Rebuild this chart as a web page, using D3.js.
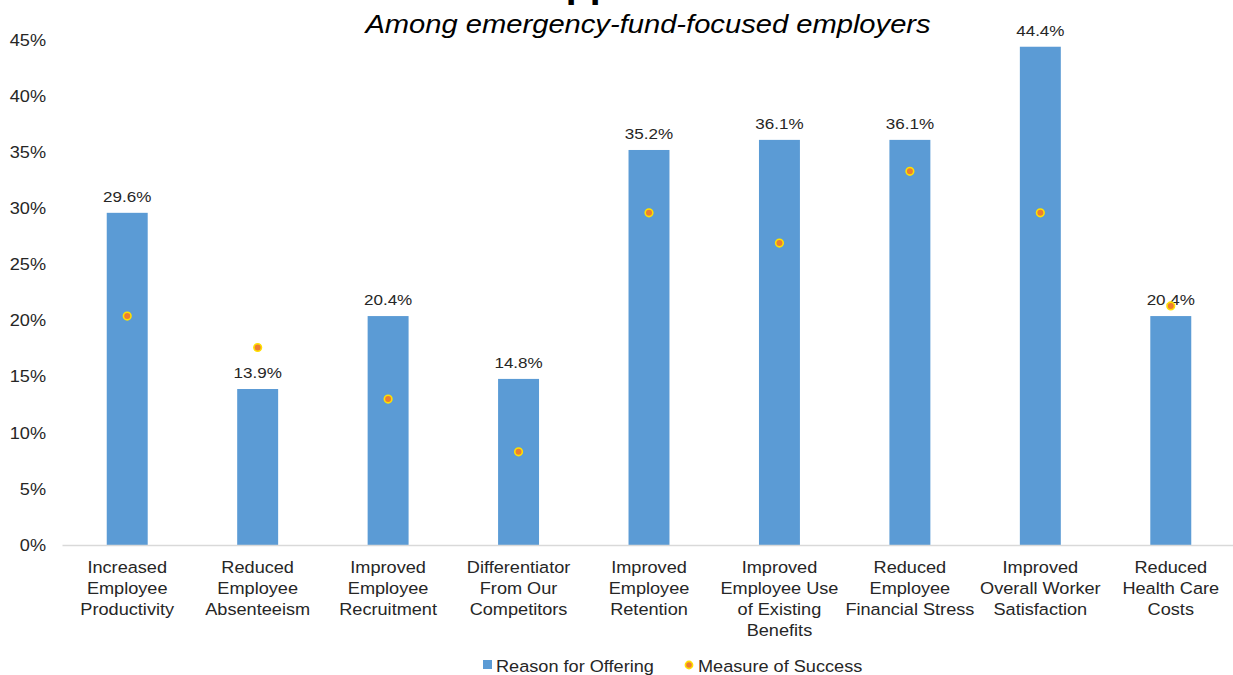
<!DOCTYPE html>
<html>
<head>
<meta charset="utf-8">
<script src="https://cdn.jsdelivr.net/npm/d3@7"></script>
<style>
  html, body { margin: 0; padding: 0; background: #fff; }
  svg { display: block; font-family: "Liberation Sans", Arial, sans-serif; }
</style>
</head>
<body>
<svg id="chart" width="1233" height="675"></svg>
<script>
// Reasons employers give for offering emergency-fund support, and how they measure success
const categories = [
  ["Increased", "Employee", "Productivity"],
  ["Reduced", "Employee", "Absenteeism"],
  ["Improved", "Employee", "Recruitment"],
  ["Differentiator", "From Our", "Competitors"],
  ["Improved", "Employee", "Retention"],
  ["Improved", "Employee Use", "of Existing", "Benefits"],
  ["Reduced", "Employee", "Financial Stress"],
  ["Improved", "Overall Worker", "Satisfaction"],
  ["Reduced", "Health Care", "Costs"]
];
const reasonForOffering = [29.6, 13.9, 20.4, 14.8, 35.2, 36.1, 36.1, 44.4, 20.4];
const measureOfSuccess  = [20.4, 17.6, 13.0, 8.3, 29.6, 26.9, 33.3, 29.6, 21.3];
const yTicks = [0, 5, 10, 15, 20, 25, 30, 35, 40, 45];
const seriesNames = ["Reason for Offering", "Measure of Success"];

const svg = d3.select("#chart");
const textColor = "#262626";
const barColor = "#5B9BD5";
const dotFill = "#ED7D31";
const dotStroke = "#FFE000";
const SX = 1.1; // horizontal widening of the text faces

// Place a text at (x, y) with a slight horizontal stretch
function placeText(sel, fx, fy) {
  sel.each(function (d, i) {
    const px = fx(d, i), py = fy(d, i);
    d3.select(this)
      .attr("x", 0).attr("y", 0)
      .attr("transform", `translate(${px},${py}) scale(${SX},1)`);
  });
  return sel;
}

const plot = { left: 62, right: 1236, top: 40, bottom: 545 };

const x = d3.scaleBand()
  .domain(d3.range(categories.length))
  .range([plot.left, plot.right])
  .paddingInner(0.686)
  .paddingOuter(0.343);

const y = d3.scaleLinear()
  .domain([0, 45])
  .range([plot.bottom, plot.top]);

// Title (runs off the top edge) and subtitle
svg.append("text")
  .attr("x", 516).attr("y", -3)
  .attr("font-size", 39).attr("font-weight", "bold")
  .attr("fill", "#000")
  .text("Support");

placeText(
  svg.append("text")
    .attr("text-anchor", "middle")
    .attr("font-size", 26.5).attr("font-style", "italic")
    .attr("fill", "#000")
    .text("Among emergency-fund-focused employers"),
  () => 648, () => 33);

// Y axis tick labels
const yAxis = d3.axisLeft(y)
  .tickValues(yTicks)
  .tickFormat(d => d + "%")
  .tickSize(0)
  .tickPadding(16);
const yg = svg.append("g")
  .attr("transform", `translate(${plot.left},0)`)
  .call(yAxis);
yg.select(".domain").remove();
yg.selectAll("text")
  .attr("font-size", 16.5)
  .attr("font-family", "Liberation Sans, Arial, sans-serif")
  .attr("fill", textColor)
  .attr("x", -16 / SX)
  .attr("transform", `scale(${SX},1)`);

// Bars
svg.append("g").selectAll("rect")
  .data(reasonForOffering)
  .join("rect")
  .attr("x", (d, i) => x(i))
  .attr("y", d => y(d))
  .attr("width", x.bandwidth())
  .attr("height", d => y(0) - y(d))
  .attr("fill", barColor);

// X axis baseline
const xAxis = d3.axisBottom(x).tickSize(0).tickFormat("");
const xg = svg.append("g")
  .attr("transform", `translate(0,${plot.bottom})`)
  .call(xAxis);
xg.select(".domain").attr("stroke", "#D9D9D9").attr("stroke-width", 1.5);

// Category labels (multi-line)
const catG = svg.append("g").selectAll("text")
  .data(categories)
  .join("text")
  .attr("text-anchor", "middle")
  .attr("font-size", 16.5)
  .attr("fill", textColor);
placeText(catG, (d, i) => x(i) + x.bandwidth() / 2, () => plot.bottom + 28);
catG.each(function (lines) {
  const t = d3.select(this);
  lines.forEach((line, k) => {
    t.append("tspan")
      .attr("x", 0)
      .attr("dy", k === 0 ? 0 : 21)
      .text(line);
  });
});

// Value labels above bars
placeText(
  svg.append("g").selectAll("text")
    .data(reasonForOffering)
    .join("text")
    .attr("text-anchor", "middle")
    .attr("font-size", 15.5)
    .attr("fill", textColor)
    .text(d => d.toFixed(1) + "%"),
  (d, i) => x(i) + x.bandwidth() / 2,
  d => y(d) - 11);

// Measure-of-success markers
svg.append("g").selectAll("circle")
  .data(measureOfSuccess)
  .join("circle")
  .attr("cx", (d, i) => x(i) + x.bandwidth() / 2)
  .attr("cy", d => y(d))
  .attr("r", 3.8)
  .attr("fill", dotFill)
  .attr("stroke", dotStroke)
  .attr("stroke-width", 1.6);

// Legend
const legend = svg.append("g");
legend.append("rect")
  .attr("x", 483).attr("y", 660).attr("width", 9).attr("height", 9)
  .attr("fill", barColor);
placeText(
  legend.append("text")
    .attr("font-size", 16.5).attr("fill", textColor)
    .text(seriesNames[0]),
  () => 496, () => 672);
legend.append("circle")
  .attr("cx", 689).attr("cy", 665).attr("r", 3.6)
  .attr("fill", dotFill).attr("stroke", dotStroke).attr("stroke-width", 1.6);
placeText(
  legend.append("text")
    .attr("font-size", 16.5).attr("fill", textColor)
    .text(seriesNames[1]),
  () => 698, () => 672);
</script>
</body>
</html>
